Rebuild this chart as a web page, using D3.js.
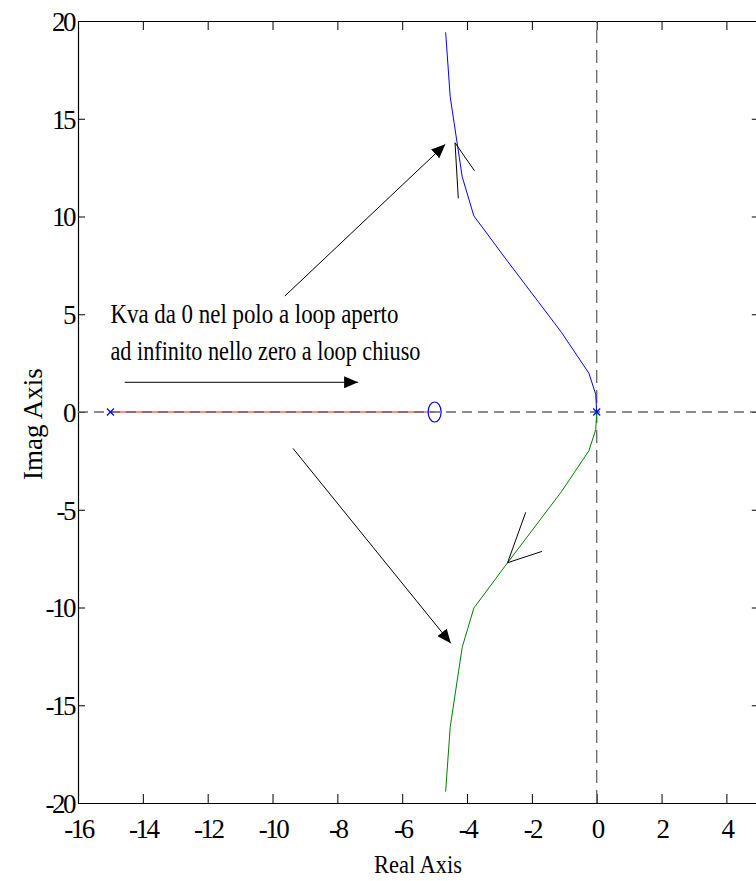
<!DOCTYPE html>
<html>
<head>
  <meta charset="UTF-8">
  <style>
    body { margin: 0; background: #fff; }
    svg { display: block; font-family: "Liberation Serif", "Times New Roman", serif; }
  </style>
</head>
<body>
<svg></svg>
<script src="https://d3js.org/d3.v7.min.js"></script>
<script>

let width = 756, height = 881;

// axis ticks
let xTicks = [-16, -14, -12, -10, -8, -6, -4, -2, 0, 2, 4];
let yTicks = [-20, -15, -10, -5, 0, 5, 10, 15, 20];

// root locus branches (real, imag)
let blueRe = [0, -0.03, -0.24, -1.09, -2.75, -3.79, -4.15, -4.52, -4.66];
let blueIm = [0, 0.9, 1.98, 4.08, 7.71, 10.03, 12.04, 16.13, 19.42];
let greenRe = [0, -0.03, -0.24, -1.09, -2.75, -3.79, -4.15, -4.52, -4.66];
let greenIm = [0, -0.9, -1.98, -4.08, -7.71, -10.03, -12.04, -16.13, -19.42];
let realLocus = [-15, -5];

// open loop poles and zeros
let poles = [-15, 0];
let zeros = [-5];

// annotation lines drawn on the figure, in data units
let arrows = [
  {x1: -9.62, y1: 5.93, x2: -4.67, y2: 13.69},
  {x1: -14.56, y1: 1.52, x2: -7.36, y2: 1.52},
  {x1: -9.37, y1: -1.86, x2: -4.50, y2: -11.83}
];
let strokes = [
  {x1: -4.37, y1: 13.77, x2: -4.27, y2: 10.93},
  {x1: -4.37, y1: 13.77, x2: -3.77, y2: 12.34},
  {x1: -2.75, y1: -7.71, x2: -2.19, y2: -5.13},
  {x1: -2.75, y1: -7.71, x2: -1.69, y2: -7.13}
];
let noteLines = ["Kva da 0 nel polo a loop aperto", "ad infinito nello zero a loop chiuso"];

let margin = {left: 78, top: 21};
let xs = d3.scaleLinear().domain([-16, 5]).range([margin.left, margin.left + 21 * 32.42]);
let ys = d3.scaleLinear().domain([-20, 20]).range([803, margin.top]);

let svg = d3.select("svg")
    .attr("width", width)
    .attr("height", height);

let defs = svg.append("defs");
defs.append("marker")
    .attr("id", "head")
    .attr("markerUnits", "userSpaceOnUse")
    .attr("viewBox", "0 0 14 12")
    .attr("refX", 14).attr("refY", 6)
    .attr("markerWidth", 14).attr("markerHeight", 12)
    .attr("orient", "auto")
  .append("path")
    .attr("d", "M0,0L14,6L0,12Z")
    .attr("fill", "black");

// frame with ticks on all four sides
let x0 = xs(-16), x1 = xs(5), y0 = ys(-20), y1 = ys(20);
let fmt = d => String(d);

let gx = svg.append("g").attr("transform", "translate(0," + y0 + ")")
    .call(d3.axisBottom(xs).tickValues(xTicks).tickSizeInner(-9).tickSizeOuter(0).tickPadding(16).tickFormat(fmt));
let gxt = svg.append("g").attr("transform", "translate(0," + y1 + ")")
    .call(d3.axisTop(xs).tickValues(xTicks).tickSizeInner(-9).tickSizeOuter(0).tickFormat(""));
let gy = svg.append("g").attr("transform", "translate(" + x0 + ",0)")
    .call(d3.axisLeft(ys).tickValues(yTicks).tickSizeInner(-7).tickSizeOuter(0).tickPadding(4).tickFormat(fmt));
let gyr = svg.append("g").attr("transform", "translate(" + x1 + ",0)")
    .call(d3.axisRight(ys).tickValues(yTicks).tickSizeInner(-7).tickSizeOuter(0).tickFormat(""));

[gx, gxt, gy, gyr].forEach(g => {
  g.select(".domain").attr("stroke", "black").attr("stroke-width", 1.2);
  g.selectAll(".tick line").attr("stroke", "black");
});
gx.selectAll(".tick text")
    .attr("font-family", "Liberation Serif, Times New Roman, serif")
    .attr("font-size", 27).attr("letter-spacing", "-2.5px")
    .attr("dy", "0.71em").attr("fill", "black");
gy.selectAll(".tick text")
    .attr("font-family", "Liberation Serif, Times New Roman, serif")
    .attr("font-size", 27).attr("letter-spacing", "-2.5px")
    .attr("dy", "0.35em").attr("fill", "black");

// red locus on real axis
svg.append("line")
    .attr("x1", xs(realLocus[0])).attr("x2", xs(realLocus[1]))
    .attr("y1", ys(0)).attr("y2", ys(0))
    .attr("stroke", "#ff6060").attr("stroke-width", 1.6);

// dashed zero lines
svg.append("line")
    .attr("x1", x0).attr("x2", x1).attr("y1", ys(0)).attr("y2", ys(0))
    .attr("stroke", "#666").attr("stroke-width", 1.3).attr("stroke-dasharray", "10,6");
svg.append("line")
    .attr("x1", xs(0)).attr("x2", xs(0)).attr("y1", y0).attr("y2", y1)
    .attr("stroke", "#666").attr("stroke-width", 1.3).attr("stroke-dasharray", "13,7");

let line = d3.line().x(d => xs(d[0])).y(d => ys(d[1]));

svg.append("path")
    .attr("d", line(d3.zip(blueRe, blueIm)))
    .attr("fill", "none").attr("stroke", "#0000ff").attr("stroke-width", 1);
svg.append("path")
    .attr("d", line(d3.zip(greenRe, greenIm)))
    .attr("fill", "none").attr("stroke", "#008000").attr("stroke-width", 1);

// poles (x) and zeros (o)
poles.forEach(p => {
  let cx = xs(p), cy = ys(0), s = 3.5;
  svg.append("path")
      .attr("d", `M${cx - s},${cy - s}L${cx + s},${cy + s}M${cx - s},${cy + s}L${cx + s},${cy - s}`)
      .attr("stroke", "#0000ff").attr("stroke-width", 1.2);
});
zeros.forEach(z => {
  svg.append("ellipse")
      .attr("cx", xs(z)).attr("cy", ys(0))
      .attr("rx", 6.5).attr("ry", 10)
      .attr("fill", "none").attr("stroke", "#0000ff").attr("stroke-width", 1.2);
});

// annotations
svg.selectAll(".arrow")
    .data(arrows)
    .enter()
    .append("line")
    .attr("class", "arrow")
    .attr("x1", d => xs(d.x1)).attr("y1", d => ys(d.y1))
    .attr("x2", d => xs(d.x2)).attr("y2", d => ys(d.y2))
    .attr("stroke", "black").attr("stroke-width", 1)
    .attr("marker-end", "url(#head)");

svg.selectAll(".stroke")
    .data(strokes)
    .enter()
    .append("line")
    .attr("class", "stroke")
    .attr("x1", d => xs(d.x1)).attr("y1", d => ys(d.y1))
    .attr("x2", d => xs(d.x2)).attr("y2", d => ys(d.y2))
    .attr("stroke", "black").attr("stroke-width", 1);

let noteWidths = [288, 310];
svg.selectAll(".note")
    .data(noteLines)
    .enter()
    .append("text")
    .attr("class", "note")
    .attr("x", xs(-15))
    .attr("y", (d, i) => 323 + i * 37)
    .attr("font-size", 27)
    .attr("textLength", (d, i) => noteWidths[i])
    .attr("lengthAdjust", "spacingAndGlyphs")
    .text(d => d);

// axis titles
svg.append("text")
    .attr("x", 418).attr("y", 873)
    .attr("text-anchor", "middle")
    .attr("font-size", 26)
    .attr("textLength", 88)
    .attr("lengthAdjust", "spacingAndGlyphs")
    .text("Real Axis");

svg.append("text")
    .attr("transform", "translate(42,424) rotate(-90)")
    .attr("text-anchor", "middle")
    .attr("font-size", 27)
    .text("Imag Axis");

</script>
</body>
</html>
